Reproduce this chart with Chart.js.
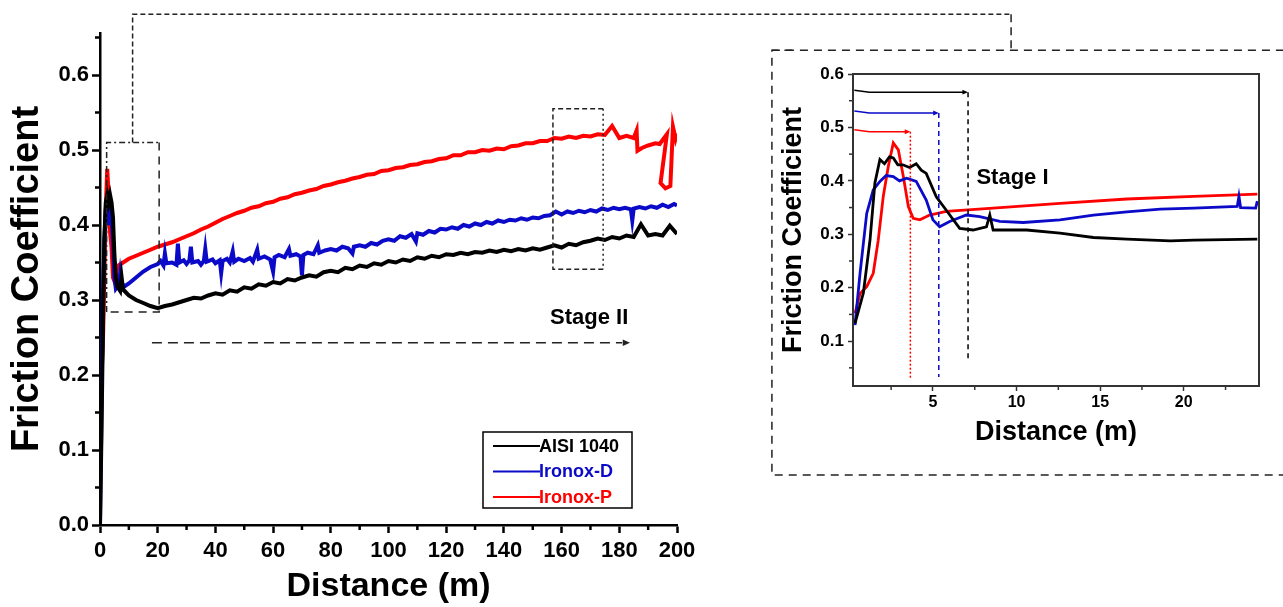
<!DOCTYPE html>
<html>
<head>
<meta charset="utf-8">
<script src="https://cdn.jsdelivr.net/npm/chart.js@4.4.1/dist/chart.umd.min.js"></script>
<style>
html, body { margin: 0; padding: 0; background: #fff; overflow: hidden; }
#main { position: absolute; left: 0; top: 0; width: 1283px; height: 607px; }
#inset { position: absolute; left: 760px; top: 40px; width: 523px; height: 440px; }
</style>
</head>
<body>
<div id="main"><canvas id="mainChart"></canvas></div>
<div id="inset"><canvas id="insetChart"></canvas></div>
<script>
// Series
var seriesNames = ['AISI 1040', 'Ironox-D', 'Ironox-P']
var seriesColors = ['#000000', '#0a0ac8', '#ff0000']

// Main chart: distance (m) / friction coefficient
var stageDist = [20, 22.5, 25, 27.5, 30, 32.5, 35, 37.5, 40, 42.5, 45, 47.5, 50, 52.5, 55, 57.5, 60, 62.5, 65, 67.5,
    70, 72.5, 75, 77.5, 80, 82.5, 85, 87.5, 90, 92.5, 95, 97.5, 100, 102.5, 105, 107.5, 110, 112.5, 115, 117.5,
    120, 122.5, 125, 127.5, 130, 132.5, 135, 137.5, 140, 142.5, 145, 147.5, 150, 152.5, 155, 157.5, 160, 162.5,
    165, 167.5, 170, 172.5, 175, 177.5, 180, 182.5, 185, 187.5, 190, 192.5, 195, 197.5, 200]

var aisiEarlyDist = [0, 0.5, 1, 1.5, 2, 2.5, 3, 3.5, 4, 4.5, 5, 5.5, 6, 7, 7.5, 8, 10, 12.5, 15, 17.5]
var aisiEarlyMu = [0, 0.12, 0.26, 0.38, 0.43, 0.44, 0.43, 0.44, 0.43, 0.41, 0.36, 0.33, 0.318, 0.312, 0.33, 0.314, 0.306, 0.30, 0.296, 0.292]
var aisiStageMu = [0.289, 0.292, 0.294, 0.297, 0.300, 0.303, 0.302, 0.306, 0.309, 0.307,
    0.313, 0.311, 0.317, 0.315, 0.321, 0.319, 0.324, 0.322, 0.328, 0.326,
    0.330, 0.333, 0.331, 0.337, 0.339, 0.337, 0.343, 0.341, 0.346, 0.344,
    0.349, 0.347, 0.352, 0.350, 0.354, 0.352, 0.357, 0.355, 0.359, 0.357,
    0.361, 0.360, 0.363, 0.361, 0.364, 0.363, 0.366, 0.364, 0.367, 0.365,
    0.368, 0.366, 0.369, 0.367, 0.370, 0.373, 0.370, 0.375, 0.373, 0.377,
    0.379, 0.382, 0.380, 0.384, 0.382, 0.386, 0.384, 0.401, 0.386, 0.388,
    0.386, 0.399, 0.388]

var ironDEarlyDist = [0, 0.5, 1, 1.5, 2, 2.5, 3, 3.5, 4, 4.5, 5, 5.5, 6.5, 7, 7.5, 8.5, 10, 12.5, 15, 17.5]
var ironDEarlyMu = [0, 0.15, 0.30, 0.38, 0.42, 0.435, 0.40, 0.43, 0.41, 0.38, 0.33, 0.315, 0.32, 0.336, 0.322, 0.318, 0.322, 0.33, 0.338, 0.344]
var ironDStageDist = [20, 21, 22, 22.5, 23, 25, 26.5, 27, 27.5, 29, 30, 31, 31.5, 32, 34, 35, 36, 36.5, 37, 39,
    40, 41.5, 42, 42.5, 44, 45, 46, 46.5, 48, 50, 52, 53, 54.5, 55, 57, 59, 60, 60.5, 62, 64,
    65.5, 66, 68, 69.5, 70, 70.5, 72, 74, 75.5, 76, 78, 80, 82, 84, 86, 87.5, 88, 90, 92, 94,
    96, 98, 100, 102, 104, 106, 108, 109.5, 110, 112, 114, 116, 118, 120, 122, 124, 126, 128, 130, 132,
    134, 136, 138, 140, 142, 144, 146, 148, 150, 152, 154, 156, 158, 160, 162, 164, 166, 168, 170, 172,
    174, 176, 178, 180, 182, 184, 184.5, 185, 187, 189, 191, 193, 195, 197, 199, 200]
var ironDStageMu = [0.348, 0.352, 0.346, 0.362, 0.349, 0.350, 0.347, 0.375, 0.350, 0.353, 0.348, 0.353, 0.371, 0.350, 0.352, 0.347, 0.352, 0.368, 0.351, 0.354,
    0.349, 0.353, 0.336, 0.352, 0.355, 0.350, 0.365, 0.351, 0.355, 0.352, 0.356, 0.351, 0.367, 0.355, 0.358, 0.354, 0.338, 0.357, 0.360, 0.357,
    0.368, 0.359, 0.361, 0.358, 0.333, 0.360, 0.363, 0.361, 0.373, 0.363, 0.366, 0.368, 0.366, 0.371, 0.369, 0.362, 0.371, 0.373, 0.371, 0.376,
    0.374, 0.379, 0.381, 0.379, 0.385, 0.383, 0.388, 0.378, 0.389, 0.387, 0.392, 0.390, 0.395, 0.394, 0.397, 0.395, 0.400, 0.398, 0.402, 0.400,
    0.404, 0.402, 0.406, 0.404, 0.407, 0.406, 0.409, 0.407, 0.410, 0.409, 0.412, 0.413, 0.418, 0.414, 0.418, 0.416, 0.419, 0.417, 0.420, 0.418,
    0.422, 0.420, 0.423, 0.421, 0.423, 0.421, 0.406, 0.422, 0.424, 0.422, 0.425, 0.423, 0.427, 0.424, 0.428, 0.426]

var ironPEarlyDist = [0, 0.5, 1, 1.5, 2, 2.5, 3, 3.5, 4, 4.5, 5, 5.5, 6, 8, 10, 12.5, 15, 17.5]
var ironPEarlyMu = [0.15, 0.20, 0.24, 0.33, 0.42, 0.475, 0.44, 0.39, 0.37, 0.33, 0.325, 0.33, 0.345, 0.35, 0.355, 0.359, 0.363, 0.367]
var ironPStageMu = [0.371, 0.374, 0.377, 0.381, 0.385, 0.389, 0.394, 0.398, 0.403, 0.408,
    0.412, 0.416, 0.419, 0.423, 0.425, 0.429, 0.431, 0.435, 0.437, 0.441,
    0.443, 0.446, 0.448, 0.452, 0.454, 0.457, 0.459, 0.462, 0.464, 0.467,
    0.468, 0.472, 0.473, 0.476, 0.477, 0.480, 0.481, 0.484, 0.485, 0.488,
    0.489, 0.493, 0.493, 0.497, 0.497, 0.500, 0.499, 0.502, 0.501, 0.505,
    0.506, 0.509, 0.509, 0.512, 0.512, 0.516, 0.515, 0.518, 0.516, 0.519,
    0.518, 0.521, 0.520, 0.532, 0.516, 0.519, 0.516]
var ironPTailDist = [186, 186.3, 188, 190, 192.5, 194, 196.5, 194.3, 196, 197.7, 198.6, 199.5, 200]
var ironPTailMu = [0.526, 0.499, 0.503, 0.506, 0.509, 0.508, 0.521, 0.456, 0.449, 0.452, 0.531, 0.515, 0.522]

var mainXTicks = [0, 20, 40, 60, 80, 100, 120, 140, 160, 180, 200]
var mainXMinor = [10, 30, 50, 70, 90, 110, 130, 150, 170, 190]
var mainYTicks = [0, 0.1, 0.2, 0.3, 0.4, 0.5, 0.6]
var mainYMinor = [0.05, 0.15, 0.25, 0.35, 0.45, 0.55, 0.65]

// Inset chart: first 25 m
var aisiInsetDist = [0.34, 0.84, 1.24, 1.53, 1.83, 2.1, 2.4, 2.63, 2.9, 3.2, 3.6, 4.0, 4.3, 4.6, 5.2, 5.8, 6.6, 7.4, 8.2, 8.4, 8.6, 10.6, 12.6, 14.6, 16.6, 19.2, 20.6, 22.5, 24.4]
var aisiInsetMu = [0.133, 0.19, 0.29, 0.396, 0.44, 0.432, 0.445, 0.443, 0.43, 0.43, 0.425, 0.432, 0.42, 0.414, 0.37, 0.345, 0.311, 0.308, 0.314, 0.336, 0.308, 0.308, 0.302, 0.294, 0.291, 0.2875, 0.289, 0.29, 0.291]
var ironDInsetDist = [0.34, 0.64, 1.04, 1.43, 1.83, 2.2, 2.63, 3.0, 3.43, 4.0, 4.6, 5.0, 5.4, 6.0, 7.0, 7.8, 9.0, 10.4, 12.6, 14.6, 16.6, 18.6, 20.6, 23.2, 23.3, 23.4, 24.3, 24.4]
var ironDInsetMu = [0.13, 0.227, 0.339, 0.383, 0.399, 0.41, 0.408, 0.40, 0.405, 0.399, 0.364, 0.327, 0.314, 0.324, 0.336, 0.333, 0.324, 0.322, 0.327, 0.336, 0.342, 0.347, 0.349, 0.352, 0.371, 0.350, 0.349, 0.362]
var ironPInsetDist = [0.34, 0.64, 1.04, 1.43, 1.73, 2.03, 2.33, 2.63, 2.93, 3.23, 3.53, 3.82, 4.22, 4.8, 5.8, 8.6, 12.6, 16.6, 20.6, 24.4]
var ironPInsetMu = [0.152, 0.189, 0.202, 0.227, 0.289, 0.371, 0.427, 0.471, 0.458, 0.408, 0.352, 0.33, 0.327, 0.336, 0.343, 0.349, 0.358, 0.366, 0.371, 0.375]

var insetXTicks = [5, 10, 15, 20]
var insetXMinor = [2.5, 7.5, 12.5, 17.5, 22.5]
var insetYTicks = [0.1, 0.2, 0.3, 0.4, 0.5, 0.6]
var insetYMinor = [0.05, 0.15, 0.25, 0.35, 0.45, 0.55]
// end of each stage I (m), with the height of its arrow
var stageIEnd = [7.1, 5.35, 3.65]
var stageIArrowMu = [0.566, 0.527, 0.492]
var stageIDropMu = [0.064, 0.033, 0.03]

Chart.defaults.font.family = "'Liberation Sans', Arial, sans-serif"
Chart.defaults.color = '#000'

function points(dist, mu) {
    return dist.map(function(d, i) { return {x: d, y: mu[i]} })
}

function lineSet(i, data, width) {
    return {
        label: seriesNames[i],
        data: data,
        borderColor: seriesColors[i],
        backgroundColor: seriesColors[i],
        borderWidth: width,
        borderJoinStyle: 'miter',
        pointRadius: 0,
        tension: 0,
        fill: false
    }
}

function setTicks(list) {
    return function(scale) { scale.ticks = list.map(function(v) { return {value: v} }) }
}

function arrowHead(ctx, x, y, size) {
    ctx.beginPath()
    ctx.moveTo(x, y)
    ctx.lineTo(x - size * 1.6, y - size * 0.7)
    ctx.lineTo(x - size * 1.6, y + size * 0.7)
    ctx.closePath()
    ctx.fill()
}

function dashed(ctx, pts, dash, color, width) {
    ctx.save()
    ctx.strokeStyle = color
    ctx.lineWidth = width
    ctx.setLineDash(dash)
    ctx.beginPath()
    pts.forEach(function(p, i) { if (i === 0) ctx.moveTo(p[0], p[1]); else ctx.lineTo(p[0], p[1]) })
    ctx.stroke()
    ctx.restore()
}

// Main chart decorations
var mainDecor = {
    id: 'mainDecor',
    afterDraw: function(chart) {
        var ctx = chart.ctx
        var xs = chart.scales.x, ys = chart.scales.y
        var X = function(v) { return xs.getPixelForValue(v) }
        var Y = function(v) { return ys.getPixelForValue(v) }
        var area = chart.chartArea
        ctx.save()
        // minor ticks
        ctx.strokeStyle = '#000'
        ctx.lineWidth = 2.5
        mainXMinor.forEach(function(v) {
            ctx.beginPath(); ctx.moveTo(X(v), area.bottom); ctx.lineTo(X(v), area.bottom + 5); ctx.stroke()
        })
        mainYMinor.forEach(function(v) {
            ctx.beginPath(); ctx.moveTo(area.left, Y(v)); ctx.lineTo(area.left - 5, Y(v)); ctx.stroke()
        })
        // zoom box around stage I plus connector to the inset
        dashed(ctx, [[X(2.3), Y(0.284)], [X(2.3), Y(0.51)], [X(20.5), Y(0.51)]], [6, 3, 2, 3], '#222', 1.5)
        dashed(ctx, [[X(20.5), Y(0.51)], [X(20.5), Y(0.284)], [X(2.3), Y(0.284)]], [8, 6], '#222', 1.5)
        dashed(ctx, [[X(11.3), Y(0.51)], [X(11.3), Y(0.681)], [X(315.8), Y(0.681)]], [5, 3], '#222', 1.5)
        dashed(ctx, [[X(315.8), Y(0.681)], [X(315.8), Y(0.633)]], [8, 5], '#222', 1.5)
        // inset frame
        dashed(ctx, [[X(240), Y(0.633)], [X(232.9), Y(0.633)], [X(232.9), Y(0.0667)], [X(420), Y(0.0667)]], [8, 6], '#222', 1.5)
        dashed(ctx, [[X(232.9), Y(0.633)], [X(420), Y(0.633)]], [8, 6], '#222', 1.5)
        // box around late stage
        dashed(ctx, [[X(174.4), Y(0.555)], [X(157), Y(0.555)], [X(157), Y(0.341)], [X(174.4), Y(0.341)]], [5, 3], '#222', 1.5)
        dashed(ctx, [[X(174.4), Y(0.555)], [X(174.4), Y(0.341)]], [2, 3], '#222', 1.5)
        // stage II arrow
        dashed(ctx, [[X(18), Y(0.243)], [X(181), Y(0.243)]], [10, 6], '#222', 1.5)
        ctx.fillStyle = '#222'
        arrowHead(ctx, X(183.7), Y(0.243), 4.5)
        ctx.font = "bold 22px 'Liberation Sans', Arial"
        ctx.textBaseline = 'middle'
        ctx.textAlign = 'left'
        ctx.fillStyle = '#000'
        ctx.fillText('Stage II', X(156), Y(0.276))
        // legend
        ctx.lineWidth = 1.5
        ctx.strokeStyle = '#000'
        ctx.strokeRect(483, 432, 149, 76)
        ctx.font = "bold 18px 'Liberation Sans', Arial"
        seriesNames.forEach(function(name, i) {
            var y = 446 + i * 25.5
            ctx.strokeStyle = seriesColors[i]
            ctx.lineWidth = 2
            ctx.beginPath(); ctx.moveTo(493, y); ctx.lineTo(540, y); ctx.stroke()
            ctx.fillStyle = seriesColors[i]
            ctx.fillText(name, 539, y + 1)
        })
        ctx.restore()
    }
}

// Inset decorations
var insetDecor = {
    id: 'insetDecor',
    afterDraw: function(chart) {
        var ctx = chart.ctx
        var xs = chart.scales.x, ys = chart.scales.y
        var X = function(v) { return xs.getPixelForValue(v) }
        var Y = function(v) { return ys.getPixelForValue(v) }
        var area = chart.chartArea
        ctx.save()
        ctx.strokeStyle = '#333'
        ctx.lineWidth = 2
        ctx.strokeRect(area.left, area.top, area.right - area.left, area.bottom - area.top)
        ctx.lineWidth = 1.5
        insetXMinor.forEach(function(v) {
            ctx.beginPath(); ctx.moveTo(X(v), area.bottom); ctx.lineTo(X(v), area.bottom + 4); ctx.stroke()
        })
        insetYMinor.forEach(function(v) {
            ctx.beginPath(); ctx.moveTo(area.left, Y(v)); ctx.lineTo(area.left - 4, Y(v)); ctx.stroke()
        })
        // stage I extent for each material
        stageIEnd.forEach(function(end, i) {
            var c = seriesColors[i]
            dashed(ctx, [[X(0.3), Y(stageIArrowMu[i]) - 2], [X(1.2), Y(stageIArrowMu[i])], [X(end) - 4, Y(stageIArrowMu[i])]], [], c, 1.5)
            ctx.fillStyle = c
            arrowHead(ctx, X(end), Y(stageIArrowMu[i]), 3.5)
            dashed(ctx, [[X(end), Y(stageIArrowMu[i])], [X(end), Y(stageIDropMu[i])]], i === 2 ? [2, 2] : [5, 4], c, 1.5)
        })
        ctx.font = "bold 22px 'Liberation Sans', Arial"
        ctx.textBaseline = 'middle'
        ctx.fillStyle = '#000'
        ctx.fillText('Stage I', X(7.6), Y(0.405))
        ctx.restore()
    }
}

var mainChart = new Chart(document.getElementById('mainChart').getContext('2d'), {
    type: 'line',
    data: {
        datasets: [
            lineSet(0, points(aisiEarlyDist.concat(stageDist), aisiEarlyMu.concat(aisiStageMu)), 4),
            lineSet(1, points(ironDEarlyDist.concat(ironDStageDist), ironDEarlyMu.concat(ironDStageMu)), 4),
            lineSet(2, points(ironPEarlyDist.concat(stageDist.slice(0, ironPStageMu.length), ironPTailDist),
                ironPEarlyMu.concat(ironPStageMu, ironPTailMu)), 4)
        ]
    },
    options: {
        responsive: true,
        maintainAspectRatio: false,
        animation: false,
        layout: { padding: { left: 0, top: 33, right: 606, bottom: 0 } },
        plugins: { legend: { display: false }, tooltip: { enabled: false } },
        scales: {
            x: {
                type: 'linear', min: 0, max: 200,
                afterBuildTicks: setTicks(mainXTicks),
                afterFit: function(s) { s.height = 82 },
                grid: { drawOnChartArea: false, tickLength: 8, tickWidth: 2.5, tickColor: '#000' },
                border: { display: true, width: 2.5, color: '#000' },
                ticks: { font: { size: 22, weight: 'bold' }, padding: 5, maxRotation: 0, autoSkip: false },
                title: { display: true, text: 'Distance (m)', font: { size: 34, weight: 'bold' }, padding: { top: 0, bottom: 0 } }
            },
            y: {
                type: 'linear', min: 0, max: 0.656,
                afterBuildTicks: setTicks(mainYTicks),
                afterFit: function(s) { s.width = 100 },
                grid: { drawOnChartArea: false, tickLength: 8, tickWidth: 2.5, tickColor: '#000' },
                border: { display: true, width: 2.5, color: '#000' },
                ticks: { font: { size: 22, weight: 'bold' }, padding: 3, callback: function(v) { return v.toFixed(1) } },
                title: { display: true, text: 'Friction Coefficient', font: { size: 38, weight: 'bold' }, padding: { top: 5, bottom: 0 } }
            }
        }
    },
    plugins: [mainDecor]
})

var insetChart = new Chart(document.getElementById('insetChart').getContext('2d'), {
    type: 'line',
    data: {
        datasets: [
            lineSet(0, points(aisiInsetDist, aisiInsetMu), 2.8),
            lineSet(1, points(ironDInsetDist, ironDInsetMu), 2.8),
            lineSet(2, points(ironPInsetDist, ironPInsetMu), 2.8)
        ]
    },
    options: {
        responsive: true,
        maintainAspectRatio: false,
        animation: false,
        layout: { padding: { left: 0, top: 34, right: 24, bottom: 0 } },
        plugins: { legend: { display: false }, tooltip: { enabled: false } },
        scales: {
            x: {
                type: 'linear', min: 0.22, max: 24.5,
                afterBuildTicks: setTicks(insetXTicks),
                afterFit: function(s) { s.height = 94 },
                grid: { drawOnChartArea: false, tickLength: 5, tickWidth: 1.5, tickColor: '#333' },
                border: { display: false },
                ticks: { font: { size: 16, weight: 'bold' }, padding: 2, maxRotation: 0, autoSkip: false },
                title: { display: true, text: 'Distance (m)', font: { size: 27, weight: 'bold' }, padding: { top: 0, bottom: 31 } }
            },
            y: {
                type: 'linear', min: 0.016, max: 0.6,
                afterBuildTicks: setTicks(insetYTicks),
                afterFit: function(s) { s.width = 93 },
                grid: { drawOnChartArea: false, tickLength: 5, tickWidth: 1.5, tickColor: '#333' },
                border: { display: false },
                ticks: { font: { size: 17, weight: 'bold' }, padding: 4, callback: function(v) { return v.toFixed(1) } },
                title: { display: true, text: 'Friction Coefficient', font: { size: 27, weight: 'bold' }, padding: { top: 17, bottom: 0 } }
            }
        }
    },
    plugins: [insetDecor]
})
</script>
</body>
</html>
